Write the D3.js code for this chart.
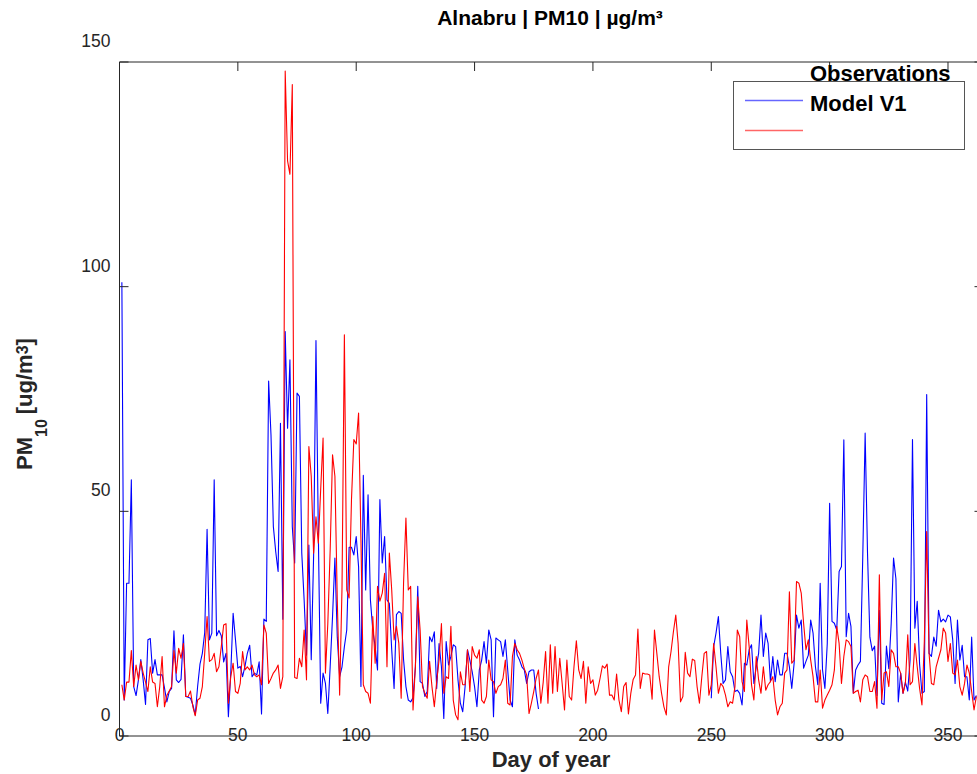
<!DOCTYPE html>
<html>
<head>
<meta charset="utf-8">
<script src="https://cdn.jsdelivr.net/npm/d3@7"></script>
<style>
  html, body { margin: 0; padding: 0; background: #ffffff; }
  svg { display: block; font-family: "Liberation Sans", Arial, Helvetica, sans-serif; }
</style>
</head>
<body>
<svg id="chart" width="977" height="774"></svg>
<script>
// ---------------- data ----------------
const chartTitle = "Alnabru | PM10 | µg/m³";
const xAxisLabel = "Day of year";
const xTickValues = [0, 50, 100, 150, 200, 250, 300, 350];
const yTickValues = [0, 50, 100, 150];
const legendLabels = ["Observations", "Model V1"];
const seriesColors = ["#0000ff", "#ff0000"];

// Blue series, day 1 .. day 362 (null = missing)
const blueValues = [
  101, 8, 34, 34, 57, 11, 9, 12.5, 17, 12.5,
  7, 21.4, 21.7, 14, 17, 13.6, 13.6, 13.6, 10.7, 7.6,
  9.9, 10.6, 23.4, 12.5, 11.9, 12.6, 22.5, 8.8, 8.6, 8.4,
  6.9, 4.7, 11, 16, 18.4, 23, 46, 21.4, 22.9, 57,
  22.3, 23.5, 22.3, 16.5, 18.4, 4.3, 14, 27.3, 21.4, 15.1,
  15.5, 13.2, 15.5, 18.4, 20.2, 13.2, 14, 13.6, 16.5, 4.9,
  26, 25.5, 79, 67, 46.6, 41, 36.6, 69.6, 26, 90,
  68.5, 83.7, 46.6, 38.5, 76.3, 75.6, 40.7, 30.3, 18, 42.5,
  17, 40, 88, 45, 7.3, 14, 11.7, 5, 15.4, 26.6,
  39.6, 22, 13.2, 15.4, 19.9, 23.6, 42, 42, 40.3, 44.4,
  37.7, 11, 58, 32.5, 53.7, 30.3, 23.6, 19.9, 14.7, 52.6,
  38.5, 44.4, 30.3, 29.5, 19.2, 10.6, 27, 27.7, 27.3, 17,
  11, 8, 7.6, 8.5, 15.4, 33.3, 12.1, 11.7, 8.8, 9.9,
  22.1, 21, 23.2, 10.6, 20.6, 15.4, 3.9, 21, 15.8, 17.7,
  20.3, 19.9, 12.5, 7.3, 5.4, 11, 19.2, 16.9, 14.3, 11,
  6.5, 14.7, 16.9, 21, 16.2, 23.6, 21.4, 4.3, 21.8, 21.4,
  21, 17.7, 21.4, 14.7, 8, 6.5, 21.4, 18, 16.9, 15.4,
  14.7, 11.7, 14.3, 14.7, 14.7, 9.5, 6,
  null, null, null, null, null, null, null, null, null, null,
  null, null, null, null, null, null, null, null, null, null,
  null, null, null, null, null, null, null, null, null, null,
  null, null, null, null, null, null, null, null, null, null,
  null, null, null, null, null, null, null, null, null, null,
  null, null, null, null, null, null, null, null, null, null,
  null, null, null, null, null, null, null, null, null, null,
  null, null,
  8.4, 19.9, 22.9, 26.6, 18.4, 11.7, 12.5, 19.9, 14.3, 13.2,
  9.9, 10.2, 9.5, 6.9, 16.2, 15.8, 19.2, 20.3, 11.7, 15.4,
  18.4, 26.9, 17.7, 22.9, 20.6, 12.1, 17.7, 12.1, 16.9, 13.6,
  13.6, 18.4, 18.4, 15.4, 10.6, 16.2, 26.9, 24, 25.8, 15.1,
  16.6, 18, 25.8, 22.9, 15.4, 11.4, 34, 14.7, 10.6, 20.6,
  51.8, 25.5, 25.1, 23.6, 36.6, 37.7, 65.9, 22.1,
  27.3, 24.4, 9.5, 14.7, 15.8, 16.6, 40, 67.4, 40.7, 22,
  19, 20, 9, 28, 7.3, 7, 20, 15, 25, 39.6,
  35, 7.6, 14, 9.5, 12, 10, 17, 66, 24, 30,
  16, 9.5, 9.9, 76, 18.4, 17.7, 22, 20, 28, 25.4,
  26, 25.4, 26.9, 26.5, 21.4, 11.7, 25.8, 16.9, 20.2, 13.2,
  13.2, 8, 22, 8, 9
];

// Red series, day 1 .. day 362
const redValues = [
  11.4, 8, 12, 12, 19, 11, 15.8, 12.5, 16.6, 14,
  12, 9.9, 15.4, 12, 11.7, 6.5, 11, 17.7, 6.5, 9,
  10, 11, 19, 14, 19.5, 17.3, 20.6, 8.8, 8.8, 10,
  6.5, 4.5, 8, 8.4, 11, 18.4, 26.6, 16.6, 17, 18.4,
  14.3, 15.4, 19.9, 24.7, 25, 7.3, 13.2, 16.2, 9.9, 9.5,
  11.7, 18.8, 14.7, 15.4, 14.7, 15.8, 13.6, 13.2, 13.6, 11.4,
  24.7, 22.9, 11.7, 12.8, 14, 14.7, 15.8, 10.6, 13.2, 148,
  128, 125, 145, 13, 12.8, 17.3, 15.4, 23.6, 12.5, 64.4,
  57.8, 40.7, 48.8, 42.9, 55, 66.3, 14, 25, 41.4, 62.6,
  57.8, 30.3, 9.1, 33, 89.3, 32.5, 30.7, 52.6, 66, 65,
  71.9, 43.7, 11.4, 9.9, 9.5, 7.3, 26.6, 16.2, 33.3, 30,
  31.8, 36.2, 15.4, 40.7, 32.5, 21.4, 24.4, 20.6, 8.4, 34,
  48.5, 32.5, 33.3, 5.8, 15.4, 31, 23.6, 11, 9.5, 8.4,
  16.6, 11, 6.5, 12.1, 16.9, 25, 9.5, 13.2, 12.8, 24.4,
  8, 4.7, 3.6, 14.3, 11.4, 11.4, 19.2, 9.9, 19.9, 18,
  17.3, 19.2, 8, 7.3, 8.8, 16.9, 12.5, 12.1, 9.5, 11,
  11.4, 12.8, 16.9, 7.3, 6.9, 17.7, 20.6, 19.2, 18.4, 16.9,
  15, 13.6, 5, 7.3, 9.9, 12.8, 14.7, 7.3, 12, 18.8,
  7.3, 20.3, 9.5, 19.9, 9.9, 17.3, 11.7, 5.8, 16.9, 8.8,
  8, 15.4, 21.2, 14.7, 12.8, 16.6, 7.3, 15.4, 11.7, 12.5,
  9.1, 10.2, 12.8, 15.6, 15.1, 16, 9.1, 9.1, 8, 13.8,
  8, 5.4, 11, 11.9, 4.9, 9.5, 12.6, 13.6, 23.8, 10.6,
  14, 13.8, 13.8, 13.6, 8.2, 23.6, 18.4, 13.2, 9.5, 6.5,
  4.7, 15.4, 18.8, 23.2, 26.9, 20.6, 7.6, 8.8, 18.6, 14,
  13.2, 17.1, 16.8, 11, 7.3, 13.2, 18.4, 18.8,
  9.1, 11.4, 20.6, 15.4, 9.5, 11.7, 11, 9.1, 6.5, 7.6,
  7.3, 11, 23.6, 22.1, 12.1, 9.9, 25.8, 19.9, 11.4, 8,
  17.7, 12.5, 9.5, 15.4, 10.2, 11.4, 12.1, 13.2, 8, 4.7,
  6.5, 7.3, 14, 14.7, 32.1, 16.2, 16.9, 34.4, 34, 31.8,
  25.1, 19.2, 21.4, 16.9, 13.2, 7.6, 7.6, 14.7, 6.2, 8,
  9.1, 10.2, 11.4, 14.7, 24.4, 20.6, 11.7, 17.7, 21.4,
  21, 19.9, 9.5, 9.9, 10.2, 7.6, 12.5, 13.6, 13.2, 9.9,
  9.9, 12.1, 6.2, 35.9, 8, 14, 14.3, 11, 19.2, 18.4,
  15.4, 15.4, 14, 9.5, 11.7, 22.5, 11.4, 12.1, 20.6, 15.4,
  10.6, 6.9, 21, 45.5, 18.4, 11.7, 11.4, 15.4, 17.3, 19.2,
  24, 22.9, 16.6, 20.6, 14, 13.6, 16.9, 11, 9.1, 11.7,
  15.8, 14, 9.9, 5.8, 8.8
];

// ---------------- drawing ----------------
const svg = d3.select("#chart");
const W = 977, H = 774;
svg.append("rect").attr("width", W).attr("height", H).attr("fill", "#ffffff");

const x = d3.scaleLinear().domain([0, 365]).range([119.5, 983.5]);
const y = d3.scaleLinear().domain([0, 150]).range([736, 62]);
const axisColor = "#262626";

svg.append("clipPath").attr("id", "plotClip")
  .append("rect")
  .attr("x", x(0)).attr("y", y(150))
  .attr("width", x(365) - x(0)).attr("height", y(0) - y(150));

// data lines
const line = d3.line()
  .defined(d => d.v !== null)
  .x(d => x(d.day))
  .y(d => y(d.v));

const allSeries = [blueValues, redValues];
allSeries.forEach((vals, i) => {
  const pts = vals.map((v, k) => ({ day: k + 1, v: v }));
  svg.append("path")
    .datum(pts)
    .attr("clip-path", "url(#plotClip)")
    .attr("fill", "none")
    .attr("stroke", seriesColors[i])
    .attr("stroke-width", 1.1)
    .attr("stroke-linejoin", "round")
    .attr("d", line);
});

// axes box
const g = svg.append("g").attr("stroke", axisColor).attr("stroke-width", 1).attr("fill", "none");
g.append("line").attr("x1", x(0)).attr("x2", x(0)).attr("y1", y(150)).attr("y2", y(0));
g.append("line").attr("x1", x(365)).attr("x2", x(365)).attr("y1", y(150)).attr("y2", y(0));
g.append("line").attr("x1", x(0)).attr("x2", x(365)).attr("y1", y(150)).attr("y2", y(150));
g.append("line").attr("x1", x(0)).attr("x2", x(365)).attr("y1", y(0)).attr("y2", y(0));

// ticks
g.selectAll(".tt").data(xTickValues).enter().append("line")
  .attr("x1", d => x(d)).attr("x2", d => x(d))
  .attr("y1", y(150)).attr("y2", y(150) + 9);
g.selectAll(".yl").data(yTickValues).enter().append("line")
  .attr("x1", x(0)).attr("x2", x(0) + 9)
  .attr("y1", d => y(d)).attr("y2", d => y(d));
g.selectAll(".yr").data(yTickValues).enter().append("line")
  .attr("x1", x(365)).attr("x2", x(365) - 9)
  .attr("y1", d => y(d)).attr("y2", d => y(d));

// tick labels
svg.selectAll(".xlab").data(xTickValues).enter().append("text")
  .attr("x", d => x(d))
  .attr("y", 740.5)
  .attr("text-anchor", "middle")
  .attr("font-size", 17.5)
  .attr("fill", axisColor)
  .text(d => d);

svg.selectAll(".ylab").data(yTickValues).enter().append("text")
  .attr("x", 110.5)
  .attr("y", d => y(d) - 15)
  .attr("text-anchor", "end")
  .attr("font-size", 17.5)
  .attr("fill", axisColor)
  .text(d => d);

// title
svg.append("text")
  .attr("x", 550).attr("y", 25)
  .attr("text-anchor", "middle")
  .attr("font-size", 21)
  .attr("font-weight", "bold")
  .attr("fill", "#000")
  .text(chartTitle);

// x-axis label
svg.append("text")
  .attr("x", 551).attr("y", 767)
  .attr("text-anchor", "middle")
  .attr("font-size", 22)
  .attr("font-weight", "bold")
  .attr("fill", axisColor)
  .text(xAxisLabel);

// y-axis label: PM_10 [ug/m^3]
const yl = svg.append("text")
  .attr("transform", "translate(32,470) rotate(-90)")
  .attr("text-anchor", "start")
  .attr("font-size", 22)
  .attr("fill", axisColor);
yl.append("tspan").attr("font-weight", "bold").text("PM");
yl.append("tspan").attr("font-weight", "bold").attr("font-size", 16).attr("dy", 15).text("10");
yl.append("tspan").attr("font-weight", "bold").attr("dy", -15).attr("dx", 5).text("[ug/m");
yl.append("tspan").attr("font-weight", "bold").attr("font-size", 16).attr("dy", -4).text("3");
yl.append("tspan").attr("font-weight", "bold").attr("dy", 4).text("]");

// legend
const lg = svg.append("g");
lg.append("rect")
  .attr("x", 733.5).attr("y", 81.5)
  .attr("width", 231).attr("height", 68)
  .attr("fill", "#ffffff")
  .attr("stroke", "#555555")
  .attr("stroke-width", 1);
const legendLineY = [100.5, 130.5];
seriesColors.forEach((c, i) => {
  lg.append("line")
    .attr("x1", 745).attr("x2", 803)
    .attr("y1", legendLineY[i]).attr("y2", legendLineY[i])
    .attr("stroke", c).attr("stroke-opacity", 0.6).attr("stroke-width", 1.5);
});
const legendTextY = [81, 111];
legendLabels.forEach((t, i) => {
  lg.append("text")
    .attr("x", 810).attr("y", legendTextY[i])
    .attr("font-size", 22)
    .attr("font-weight", "bold")
    .attr("fill", "#000")
    .text(t);
});
</script>
</body>
</html>
